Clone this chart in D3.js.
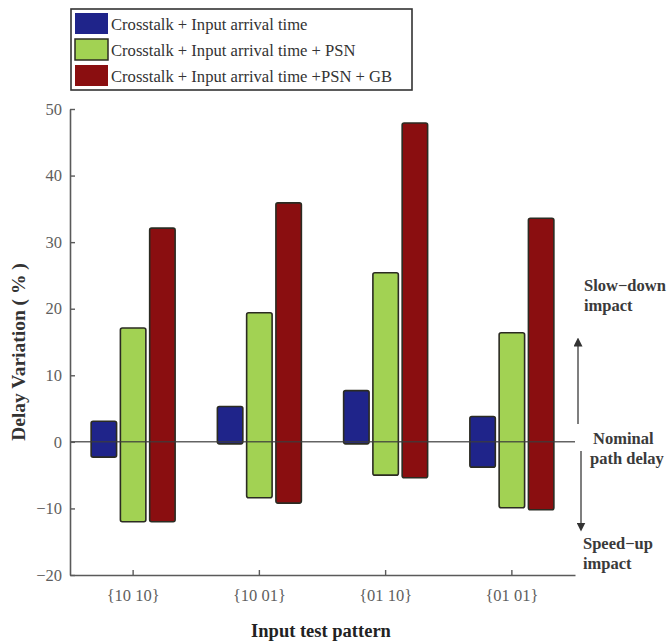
<!DOCTYPE html>
<html>
<head>
<meta charset="utf-8">
<script src="https://cdnjs.cloudflare.com/ajax/libs/d3/7.8.5/d3.min.js"></script>
<style>
	body { margin: 0; background: #fff; }
	svg { display: block; font-family: "Liberation Serif", "DejaVu Serif", serif; }
</style>
</head>
<body>
<script>
// data
var patterns = ['{10 10}', '{10 01}', '{01 10}', '{01 01}'];
var series = ['Crosstalk + Input arrival time', 'Crosstalk + Input arrival time + PSN', 'Crosstalk + Input arrival time +PSN + GB'];
var top_vals = [
	[3.1, 17.1, 32.1],
	[5.3, 19.4, 35.9],
	[7.7, 25.4, 47.9],
	[3.8, 16.4, 33.6]
];
var bottom_vals = [
	[-2.3, -12.0, -12.0],
	[-0.3, -8.4, -9.2],
	[-0.3, -5.0, -5.4],
	[-3.8, -9.9, -10.2]
];
var y_ticks = [-20, -10, 0, 10, 20, 30, 40, 50];

var colors = ['#1f248a', '#a2d253', '#8a0e10'];
var axis_color = '#5a5a5a';

var width = 669, height = 644;
var left = 70, right = 575, top_y = 109, bottom_y = 575;

var svg = d3.select('body').append('svg')
	.attr('width', width)
	.attr('height', height);

var x0 = d3.scaleBand().domain(patterns).range([left, right]);
var x1 = d3.scaleBand().domain(series).range([-42, 42]).paddingInner(0.13);
var y = d3.scaleLinear().domain([-20, 50]).range([bottom_y, top_y]);

// bars
patterns.forEach(function(p, i) {
	var cx = x0(p) + x0.bandwidth() / 2;
	svg.selectAll('.bar_' + i)
		.data(series)
		.enter()
		.append('rect')
		.attr('class', 'bar_' + i)
		.attr('x', function(d) { return cx + x1(d); })
		.attr('y', function(d, j) { return y(top_vals[i][j]); })
		.attr('width', x1.bandwidth())
		.attr('height', function(d, j) { return y(bottom_vals[i][j]) - y(top_vals[i][j]); })
		.attr('rx', 2)
		.attr('ry', 2)
		.style('fill', function(d, j) { return colors[j]; })
		.style('stroke', '#2b2b22')
		.style('stroke-width', 1.6);
});

// nominal (zero) line over the bars
svg.append('line')
	.attr('x1', left).attr('x2', right)
	.attr('y1', y(0)).attr('y2', y(0))
	.style('stroke', '#3c3c3c')
	.style('stroke-opacity', 0.8)
	.style('stroke-width', 1.5);

// axes, matlab style ticks pointing inwards
var y_axis = svg.append('g')
	.attr('transform', 'translate(' + left + ',0)')
	.call(d3.axisLeft(y).tickValues(y_ticks).tickSizeInner(-5).tickSizeOuter(0).tickPadding(6).tickFormat(d3.format('d')));

var x_axis = svg.append('g')
	.attr('transform', 'translate(0,' + bottom_y + ')')
	.call(d3.axisBottom(x0).tickSizeInner(-5).tickSizeOuter(0).tickPadding(14));

[y_axis, x_axis].forEach(function(a) {
	a.select('.domain').style('stroke', axis_color).style('stroke-width', 1.6);
	a.selectAll('.tick line').style('stroke', axis_color).style('stroke-width', 1.4);
	a.selectAll('.tick text')
		.style('fill', '#5e5e5e')
		.style('font-family', '"Liberation Serif", serif')
		.style('font-size', '16.5px');
});
y_axis.selectAll('.tick text').attr('dx', '-2');

// axis titles
svg.append('text')
	.attr('transform', 'translate(25,352) rotate(-90)')
	.attr('text-anchor', 'middle')
	.attr('font-weight', 'bold')
	.attr('font-size', '19.5px')
	.style('fill', '#333')
	.text('Delay Variation ( % )');

svg.append('text')
	.attr('x', 321)
	.attr('y', 637)
	.attr('text-anchor', 'middle')
	.attr('font-weight', 'bold')
	.attr('font-size', '18.5px')
	.style('fill', '#222')
	.text('Input test pattern');

// legend
var legend = svg.append('g');
legend.append('rect')
	.attr('x', 71).attr('y', 9)
	.attr('width', 341).attr('height', 81)
	.style('fill', '#fff')
	.style('stroke', '#333')
	.style('stroke-width', 1.6);

legend.selectAll('.swatch')
	.data(series)
	.enter()
	.append('rect')
	.attr('class', 'swatch')
	.attr('x', 75)
	.attr('y', function(d, i) { return 13 + i * 26; })
	.attr('width', 33)
	.attr('height', 21)
	.style('fill', function(d, i) { return colors[i]; })
	.style('stroke', function(d, i) { return i == 1 ? '#2b2b22' : 'none'; })
	.style('stroke-width', 1.5);

legend.selectAll('.legend_text')
	.data(series)
	.enter()
	.append('text')
	.attr('class', 'legend_text')
	.attr('x', 111)
	.attr('y', function(d, i) { return 30 + i * 26; })
	.attr('font-size', '16.6px')
	.style('fill', '#333')
	.text(function(d) { return d; });

// right hand annotations
var notes = [
	{ t: 'Slow\u2212down', x: 584, y: 291 },
	{ t: 'impact', x: 584, y: 311 },
	{ t: 'Nominal', x: 593, y: 444 },
	{ t: 'path delay', x: 590, y: 464 },
	{ t: 'Speed\u2212up', x: 583, y: 549 },
	{ t: 'impact', x: 583, y: 569 }
];
svg.selectAll('.note')
	.data(notes)
	.enter()
	.append('text')
	.attr('class', 'note')
	.attr('x', function(d) { return d.x; })
	.attr('y', function(d) { return d.y; })
	.attr('font-size', '16.5px')
	.attr('font-weight', 'bold')
	.style('fill', '#3a3a3a')
	.text(function(d) { return d.t; });

var defs = svg.append('defs');
defs.append('marker')
	.attr('id', 'head')
	.attr('viewBox', '0 0 10 10')
	.attr('refX', 5).attr('refY', 5)
	.attr('markerWidth', 6).attr('markerHeight', 6)
	.attr('orient', 'auto')
	.append('path')
	.attr('d', 'M0,0 L10,5 L0,10 Z')
	.style('fill', '#333');

svg.append('line')
	.attr('x1', 578).attr('x2', 578)
	.attr('y1', 424).attr('y2', 342)
	.style('stroke', '#555').style('stroke-width', 1.5)
	.attr('marker-end', 'url(#head)');

svg.append('line')
	.attr('x1', 581).attr('x2', 581)
	.attr('y1', 451).attr('y2', 527)
	.style('stroke', '#555').style('stroke-width', 1.5)
	.attr('marker-end', 'url(#head)');
</script>
</body>
</html>
